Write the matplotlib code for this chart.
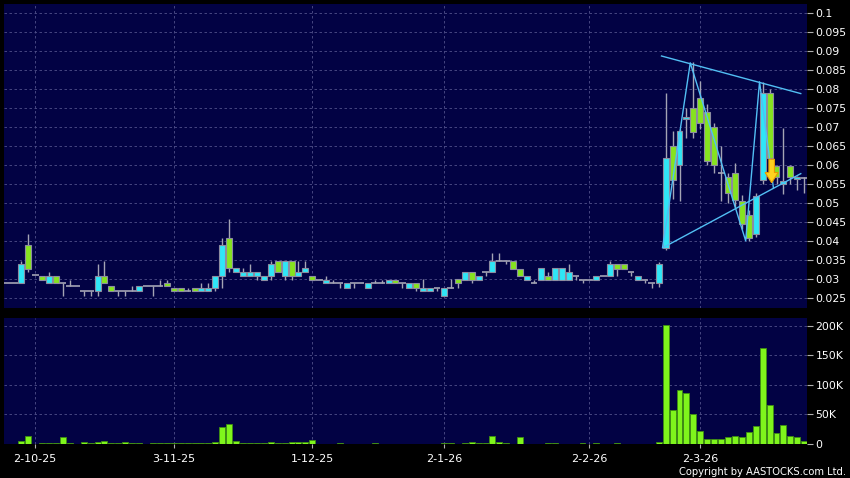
import matplotlib.pyplot as plt
import numpy as np
from matplotlib.patches import FancyArrow

# daily OHLC (HKD) and volume (thousand shares)
opens = [.029, .029, .029, .039, .031, .0308, .029, .0308, .029, .028,
         .028, .0268, .0268, .0268, .0308, .028, .0268, .0268, .0268, .0268,
         .028, .028, .028, .029, .0277, .0277, .0268, .0277, .0268, .0268,
         .0277, .0307, .0407, .0317, .0307, .0307, .0307, .0297, .0307, .0347,
         .0307, .0347, .0307, .0317, .0307, .0297, .0288, .029, .029, .0277,
         .0288, .0288, .0277, .0288, .0288, .0288, .0297, .0288, .0277, .0288,
         .0267, .0267, .0277, .0255, .0277, .0299, .0297, .0318, .0297, .0318,
         .0317, .0347, .0347, .0347, .0327, .0297, .0289, .0297, .0306, .0297,
         .0297, .0297, .0306, .0297, .0297, .0297, .0306, .0306, .0339, .0339,
         .0318, .0297, .0297, .0289, .029, .0381, .065, .060, .0720, .0749,
         .0777, .0739, .070, .058, .0567, .0578, .0505, .0468, .0418, .056,
         .079, .0597, .0549, .0597, .0562, .0565]
highs = [.029, .029, .0347, .0418, .031, .0308, .0319, .0308, .029, .0297,
         .028, .0268, .0268, .034, .0347, .028, .0268, .0268, .028, .028,
         .028, .028, .0297, .0297, .0277, .0277, .0277, .0277, .029, .029,
         .0307, .0407, .0457, .0328, .0328, .034, .0317, .0307, .0347, .0347,
         .0347, .0347, .0347, .0347, .0307, .0297, .0308, .0297, .029, .0288,
         .0288, .0288, .0288, .0297, .0297, .0297, .0297, .0288, .0288, .0288,
         .0299, .0277, .0277, .0277, .0299, .0299, .0318, .0318, .0308, .0318,
         .0368, .0368, .0347, .0347, .0327, .0306, .0297, .0328, .0318, .0328,
         .0328, .0339, .0306, .0297, .0297, .0306, .0306, .0347, .0339, .0339,
         .0318, .0306, .0297, .0289, .0345, .079, .069, .0695, .075, .087,
         .082, .076, .071, .065, .058, .0605, .052, .048, .0525, .0819,
         .080, .060, .0698, .060, .057, .0567]
lows = [.029, .029, .029, .0317, .031, .0297, .029, .029, .0255, .028,
        .028, .0255, .0255, .0255, .029, .0268, .0255, .0255, .0268, .0268,
        .028, .0255, .028, .028, .0268, .0268, .0268, .0268, .0268, .0268,
        .0267, .0277, .0317, .0317, .0307, .0307, .0297, .0297, .0297, .0318,
        .0297, .0297, .0307, .0317, .0297, .0297, .0288, .029, .0277, .0277,
        .0277, .0288, .0277, .0288, .0288, .0288, .0288, .0277, .0277, .0268,
        .0267, .0267, .0267, .0255, .0277, .0277, .0297, .0289, .0297, .0308,
        .0317, .0347, .0339, .0327, .0306, .0297, .0289, .0297, .0297, .0297,
        .0297, .0297, .0297, .0289, .0297, .0297, .0306, .0306, .0306, .0327,
        .0306, .0297, .0289, .0277, .0279, .0376, .051, .0505, .067, .067,
        .0695, .060, .058, .0505, .050, .049, .043, .040, .041, .055,
        .060, .055, .0524, .055, .0535, .0527]
closes = [.029, .029, .034, .0327, .031, .0297, .0308, .029, .029, .028,
          .028, .0268, .0268, .0308, .029, .0268, .0268, .0268, .0268, .028,
          .028, .028, .028, .028, .0268, .0268, .0268, .0268, .0277, .0277,
          .0307, .0389, .0328, .0328, .0317, .0317, .0317, .0307, .0339, .0318,
          .0347, .0307, .0317, .0328, .0297, .0297, .0297, .029, .029, .0288,
          .0288, .0288, .0288, .0288, .0288, .0297, .0288, .0288, .0288, .0277,
          .0277, .0277, .0277, .0277, .0277, .0289, .0318, .0297, .0308, .0318,
          .0347, .0347, .0347, .0327, .0306, .0306, .0289, .0328, .0297, .0328,
          .0328, .0317, .0306, .0297, .0297, .0306, .0306, .0339, .0327, .0327,
          .0318, .0306, .0297, .0289, .0339, .0618, .056, .069, .0727, .0688,
          .0711, .0611, .060, .058, .0527, .0508, .0444, .0407, .0518, .079,
          .0618, .0567, .0558, .0568, .0568, .0565]
volumes = [0, 0, 5.7, 14, 0, 1.5, 1, 1, 11.3, 1,
           0, 4, 2.3, 4, 5.7, 1.7, 2.3, 4, 1, 1.5,
           0, 2.3, 1, 1.5, 1, 1, 1, 1, 1.7, 1,
           3, 29.5, 33, 5.7, 1, 2.3, 1, 1.5, 4, 2.3,
           2.3, 4, 4, 4, 7.4, 0.5, 0.5, 0, 1, 0.5,
           0, 0, 0.5, 2.3, 0, 0.5, 0.5, 0, 0.5, 0.5,
           0.5, 0.5, 0, 1, 1, 0.5, 1, 3, 1.5, 1.5,
           13, 3, 1, 0.5, 12.5, 0.5, 0, 0.5, 2, 2,
           0.5, 0.5, 0, 2, 0, 1, 0, 0.5, 2, 0.5,
           0, 0.5, 0, 0, 2.8, 201, 56.7, 92, 85.6, 51,
           21.5, 8.5, 8.5, 8.5, 11.3, 14, 12.4, 19.8, 31, 163,
           66, 18, 31.7, 14, 12.4, 4.5]

date_idx = [4, 24, 44, 63, 84, 100]
date_labels = ['2-10-25', '3-11-25', '1-12-25', '2-1-26', '2-2-26', '2-3-26']
price_ticks = [0.025, 0.03, 0.035, 0.04, 0.045, 0.05, 0.055, 0.06,
               0.065, 0.07, 0.075, 0.08, 0.085, 0.09, 0.095, 0.1]
vol_ticks = [0, 50, 100, 150, 200]
vol_labels = ['0', '50K', '100K', '150K', '200K']

# drawn pattern lines
zig_idx = [95, 99, 107, 109, 111]
zig_px = [0.0382, 0.0869, 0.040, 0.0819, 0.054]
upper_idx = [94.4, 114.5]
upper_px = [0.0887, 0.0788]
lower_idx = [94.6, 114.5]
lower_px = [0.0382, 0.0577]
signal_idx = 110.3
signal_top, signal_tip = 0.0615, 0.0553

bg = '#020244'
up_col = '#2fe6f7'
down_col = '#86e31f'
wick_col = '#a4a4b4'
grid_col = '#50508a'
line_col = '#52bff4'

fig = plt.figure(figsize=(8.5, 4.78), dpi=100, facecolor='black')
ax = fig.add_axes([4/850, 1-308/478, 803/850, 304/478], facecolor=bg)
axv = fig.add_axes([4/850, 1-444/478, 803/850, 126/478], facecolor=bg)

x = np.arange(len(opens))
o = np.array(opens); h = np.array(highs); l = np.array(lows); c = np.array(closes)

ax.vlines(x, l, h, color=wick_col, lw=1, zorder=2)
doji = o == c
ax.hlines(o[doji], x[doji]-0.5, x[doji]+0.5, color=wick_col, lw=1.2, zorder=2)
body = ~doji
cols = np.where(c > o, up_col, down_col)[body]
ax.bar(x[body], np.abs(c-o)[body], bottom=np.minimum(o, c)[body], width=0.86,
       color=cols, edgecolor='#8c8ca0', linewidth=0.8, zorder=3)

ax.plot(np.array(zig_idx)-0.45, zig_px, color=line_col, lw=1, zorder=4)
ax.plot(upper_idx, upper_px, color=line_col, lw=1, zorder=4)
ax.plot(lower_idx, lower_px, color=line_col, lw=1, zorder=4)
ax.add_patch(FancyArrow(signal_idx, signal_top, 0, signal_tip-signal_top, width=0.8,
                        head_width=1.9, head_length=0.0027, length_includes_head=True,
                        fc='#ffd21f', ec='#e69a00', lw=0.8, zorder=5))

axv.bar(x, volumes, width=0.86, color='#7ff51c', edgecolor='#3f8f12', linewidth=0.6, zorder=3)

for a in (ax, axv):
    a.set_xlim(-0.5, 115.4)
    a.set_xticks(date_idx)
    a.yaxis.tick_right()
    a.grid(True, color=grid_col, linestyle=(0, (3, 3)), linewidth=0.6)
    a.set_axisbelow(True)
    for s in a.spines.values():
        s.set_visible(False)
    a.tick_params(axis='y', colors='#b0b0b0', labelcolor='white', labelsize=7.8,
                  length=4, width=0.8, pad=2)

ax.set_ylim(0.0223, 0.1024)
ax.set_yticks(price_ticks)
ax.set_yticklabels([f'{t:g}' for t in price_ticks])
ax.tick_params(axis='x', length=0, labelbottom=False)

axv.set_ylim(0, 213)
axv.set_yticks(vol_ticks)
axv.set_yticklabels(vol_labels)
axv.set_xticklabels(date_labels)
axv.tick_params(axis='x', colors='#b0b0b0', labelcolor='white', labelsize=8, length=3, pad=4)

fig.text(846/850, 1-472/478, 'Copyright by AASTOCKS.com Ltd.', color='white',
         fontsize=7.2, ha='right', va='center')

fig.savefig('out.png', dpi=100, facecolor='black')
